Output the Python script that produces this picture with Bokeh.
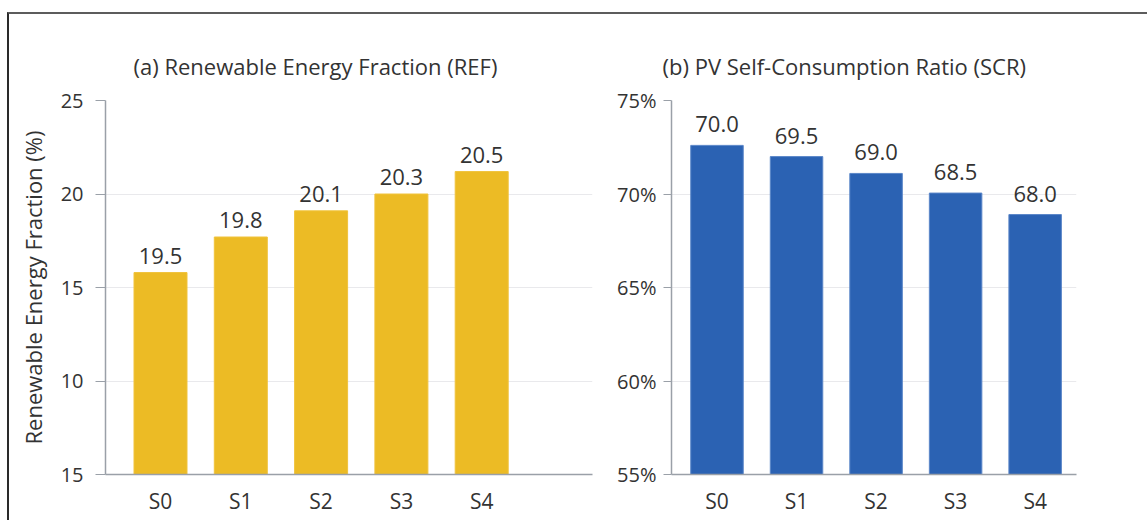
import math
from bokeh.plotting import figure
from bokeh.models import FixedTicker, ColumnDataSource, Range1d
from bokeh.layouts import row
from bokeh.core.properties import value
from bokeh.embed import file_html
from bokeh.resources import INLINE

# ---- data ----
scenarios = ["S0", "S1", "S2", "S3", "S4"]
ref_heights = [15.8, 17.7, 19.1, 20.0, 21.2]
ref_labels = ["19.5", "19.8", "20.1", "20.3", "20.5"]
scr_heights = [72.6, 72.0, 71.1, 70.05, 68.9]
scr_labels = ["70.0", "69.5", "69.0", "68.5", "68.0"]
ref_ticks = [5, 10, 15, 20, 25]
ref_tick_labels = ["15", "10", "15", "20", "25"]
scr_ticks = [55, 60, 65, 70, 75]
scr_tick_labels = ["55%", "60%", "65%", "70%", "75%"]

FONT = "Open Sans"
TXT = "#333333"
AXIS = "#9aa0a8"
GRID = "#e9e9ec"


def panel(title, heights, labels, ticks, tick_labels, color, edge, xr, width,
          mb_left, mb_right, title_offset, label_off, tick_out, tick_standoff):
    xs = list(range(len(scenarios)))
    p = figure(width=width, height=506, output_backend="svg", toolbar_location=None,
               x_range=Range1d(*xr), y_range=Range1d(ticks[0], ticks[-1]),
               min_border_left=mb_left, min_border_right=mb_right,
               min_border_top=86, min_border_bottom=46)
    p.background_fill_color = "white"
    p.border_fill_color = "white"
    p.outline_line_color = None
    src = ColumnDataSource(dict(x=xs, top=heights, label=labels))
    p.vbar(x="x", top="top", bottom=ticks[0], width=0.66, source=src,
           fill_color=color, line_color=edge, line_width=1)
    p.text(x="x", y="top", text="label", source=src, text_align="center",
           text_baseline="middle", y_offset=-label_off, text_font=value(FONT),
           text_font_size="22px", text_color=TXT)

    p.title.text = title
    p.title.align = "left"
    p.title.offset = title_offset
    p.title.text_font = FONT
    p.title.text_font_size = "22px"
    p.title.text_font_style = "normal"
    p.title.text_color = TXT
    p.title.standoff = 40

    xa = p.xaxis[0]
    xa.ticker = FixedTicker(ticks=xs)
    xa.major_label_overrides = {i: s for i, s in zip(xs, scenarios)}
    xa.major_tick_out = 0
    xa.major_tick_in = 0
    xa.major_tick_line_color = None
    xa.minor_tick_line_color = None
    xa.axis_line_color = AXIS
    xa.axis_line_width = 1.5
    xa.major_label_text_font = FONT
    xa.major_label_text_font_size = "21px"
    xa.major_label_text_color = TXT
    xa.major_label_standoff = 12

    ya = p.yaxis[0]
    ya.ticker = FixedTicker(ticks=ticks)
    ya.major_label_overrides = {t: s for t, s in zip(ticks, tick_labels)}
    ya.major_tick_out = tick_out
    ya.major_tick_in = 0
    ya.major_tick_line_color = AXIS
    ya.minor_tick_line_color = None
    ya.axis_line_color = AXIS
    ya.axis_line_width = 1.5
    ya.major_label_text_font = FONT
    ya.major_label_text_font_size = "20px"
    ya.major_label_text_color = TXT
    ya.major_label_standoff = tick_standoff
    ya.axis_label_text_font = FONT
    ya.axis_label_text_font_size = "22px"
    ya.axis_label_text_font_style = "normal"
    ya.axis_label_text_color = TXT

    p.xgrid.visible = False
    p.ygrid.grid_line_color = GRID
    p.ygrid.grid_line_width = 1
    return p


p1 = panel("(a) Renewable Energy Fraction (REF)", ref_heights, ref_labels, ref_ticks,
           ref_tick_labels, "#ecbb25", "#f0c33c", (-0.685, 5.38), 585, 96, 2, 28, 17, 10, 12)
p1.yaxis[0].axis_label = "Renewable Energy Fraction (%)"
p1.yaxis[0].axis_label_standoff = 10

p2 = panel("(b) PV Self-Consumption Ratio (SCR)", scr_heights, scr_labels, scr_ticks,
           scr_tick_labels, "#2b62b3", "#5a86c8", (-0.572, 4.52), 553, 77, 71, -9, 21, 8, 7)

layout = row(p1, p2, styles={"margin-top": "12px", "margin-left": "7px",
                             "border-top": "2px solid #5c5c5c",
                             "border-left": "2px solid #2a2a2a"})

open("out.html", "w").write(file_html(layout, INLINE))
